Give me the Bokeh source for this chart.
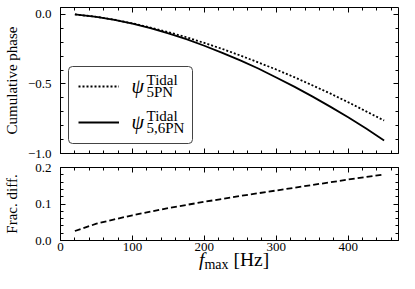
from bokeh.plotting import figure
from bokeh.layouts import column
from bokeh.models import (LinearAxis, SingleIntervalTicker, CustomJSTickFormatter,
                          Legend, LegendItem, Label, Range1d, ColumnDataSource, Div,
                          BoxAnnotation)
from bokeh.embed import file_html
from bokeh.resources import INLINE

# ---------------- data ----------------
f_max = [20, 50, 75, 100, 125, 150, 175, 200, 225, 250, 275, 300, 325, 350, 375, 400, 425, 450]
psi_5pn = [0.0, -0.017, -0.038, -0.064, -0.094, -0.127, -0.164, -0.205, -0.248, -0.295,
           -0.345, -0.396, -0.451, -0.509, -0.568, -0.631, -0.697, -0.763]
psi_56pn = [0.0, -0.017, -0.039, -0.066, -0.099, -0.136, -0.178, -0.225, -0.276, -0.330,
            -0.389, -0.453, -0.519, -0.589, -0.663, -0.740, -0.821, -0.906]

f_diff = [20, 50, 75, 100, 150, 200, 250, 300, 350, 400, 450]
frac_diff = [0.026, 0.046, 0.058, 0.069, 0.089, 0.106, 0.122, 0.137, 0.152, 0.167, 0.181]

y_label_top = "Cumulative phase"
y_label_bottom = "Frac. diff."

SERIF = "Liberation Serif"
W = 399

yfmt_js = "return (tick < -1e-9 ? '\u2212' : '') + Math.abs(tick).toFixed(1);"


def tick_style(ax):
    ax.axis_line_color = None
    ax.major_tick_in = 5
    ax.major_tick_out = 0
    ax.minor_tick_in = 3
    ax.minor_tick_out = 0
    ax.major_tick_line_color = "black"
    ax.minor_tick_line_color = "black"
    ax.major_label_text_font = SERIF
    ax.major_label_text_font_size = "13px"
    ax.major_label_text_color = "black"
    ax.axis_label_text_font = SERIF
    ax.axis_label_text_font_style = "normal"
    ax.axis_label_text_font_size = "15px"
    ax.axis_label_text_color = "black"


def blank_axis(ax):
    tick_style(ax)
    ax.formatter = CustomJSTickFormatter(code="return '';")
    ax.major_label_text_font_size = "0px"
    ax.major_label_standoff = 0
    ax.axis_label = None


def make_fig(height, yr, border_top, border_bottom):
    p = figure(width=W, height=height, x_range=Range1d(0, 470), y_range=Range1d(*yr),
               output_backend="svg", toolbar_location=None,
               x_axis_type=None, y_axis_type=None,
               min_border_left=51, min_border_right=1, min_border_top=border_top,
               min_border_bottom=border_bottom)
    p.xgrid.visible = False
    p.ygrid.visible = False
    p.outline_line_color = "black"
    p.outline_line_width = 1
    p.outline_line_alpha = 1
    p.background_fill_color = "white"
    p.border_fill_color = "white"
    return p


# ---------------- top panel ----------------
p1 = make_fig(160, (-1.0, 0.05), 7, 7)
src1 = ColumnDataSource(dict(f=f_max, a=psi_5pn, b=psi_56pn))
r_dot = p1.line("f", "a", source=src1, line_color="black", line_width=1.8, line_dash="2 2")
r_sol = p1.line("f", "b", source=src1, line_color="black", line_width=1.8)

ly1 = LinearAxis(ticker=SingleIntervalTicker(interval=0.5, num_minor_ticks=5),
                 formatter=CustomJSTickFormatter(code=yfmt_js), axis_label=y_label_top)
tick_style(ly1)
ly1.major_label_standoff = 9
ly1.axis_label_standoff = 5
p1.add_layout(ly1, "left")
ry1 = LinearAxis(ticker=SingleIntervalTicker(interval=0.5, num_minor_ticks=5))
blank_axis(ry1)
p1.add_layout(ry1, "right")
bx1 = LinearAxis(ticker=SingleIntervalTicker(interval=100, num_minor_ticks=5))
blank_axis(bx1)
p1.add_layout(bx1, "below")
ax1 = LinearAxis(ticker=SingleIntervalTicker(interval=100, num_minor_ticks=5))
blank_axis(ax1)
p1.add_layout(ax1, "above")

# legend frame (rounded box) in canvas pixels
legend_box = BoxAnnotation(left=68, right=192, top=66, bottom=143,
                           left_units="canvas", right_units="canvas",
                           top_units="canvas", bottom_units="canvas",
                           fill_alpha=0, line_color="#444444", line_width=1, line_alpha=1,
                           border_radius=4)
p1.add_layout(legend_box)

legend = Legend(items=[LegendItem(label=" ", renderers=[r_dot]),
                       LegendItem(label=" ", renderers=[r_sol])],
                location=(7, 10), padding=11, spacing=16, glyph_width=41, glyph_height=20,
                label_width=58, label_height=20, label_standoff=0,
                border_line_alpha=0, background_fill_alpha=0,
                label_text_font_size="10px")
p1.add_layout(legend)

lab_kw = dict(x_units="screen", y_units="screen", text_font=SERIF, text_color="black",
              text_baseline="alphabetic", level="overlay")
for (yb, sub) in ((68, "5PN"), (32, "5,6PN")):
    p1.add_layout(Label(x=71, y=yb, text="ψ", text_font_size="20px",
                        text_font_style="italic", **lab_kw))
    p1.add_layout(Label(x=86, y=yb + 6, text="Tidal", text_font_size="15px", **lab_kw))
    p1.add_layout(Label(x=86, y=yb - 6, text=sub, text_font_size="15px", **lab_kw))

# ---------------- bottom panel ----------------
p2 = make_fig(97, (0.0, 0.2), 7, 17)
p2.x_range = p1.x_range
src2 = ColumnDataSource(dict(f=f_diff, d=frac_diff))
p2.line("f", "d", source=src2, line_color="black", line_width=1.8, line_dash="6 3")

ly2 = LinearAxis(ticker=SingleIntervalTicker(interval=0.1, num_minor_ticks=5),
                 formatter=CustomJSTickFormatter(code=yfmt_js), axis_label=y_label_bottom)
tick_style(ly2)
ly2.major_label_standoff = 9
ly2.axis_label_standoff = 12
p2.add_layout(ly2, "left")
ry2 = LinearAxis(ticker=SingleIntervalTicker(interval=0.1, num_minor_ticks=5))
blank_axis(ry2)
p2.add_layout(ry2, "right")
bx2 = LinearAxis(ticker=SingleIntervalTicker(interval=100, num_minor_ticks=5))
tick_style(bx2)
bx2.major_label_standoff = 2
bx2.axis_label = None
p2.add_layout(bx2, "below")
ax2 = LinearAxis(ticker=SingleIntervalTicker(interval=100, num_minor_ticks=5))
blank_axis(ax2)
p2.add_layout(ax2, "above")

# x axis label: f_max [Hz]
xlab_html = (
    "<div style=\"font-family:'Liberation Serif',serif; font-size:19.5px; line-height:7px; "
    "color:black; white-space:nowrap; padding-left:199px; margin:0; "
    "position:relative; top:-3px;\">"
    "<i>f</i><span style=\"font-size:14px; position:relative; top:3px;\">max</span>"
    "&nbsp;[Hz]</div>"
)
xlab = Div(text=xlab_html, width=W, height=32, margin=0)

layout = column(p1, p2, xlab, spacing=0)
open("out.html", "w").write(file_html(layout, INLINE))
